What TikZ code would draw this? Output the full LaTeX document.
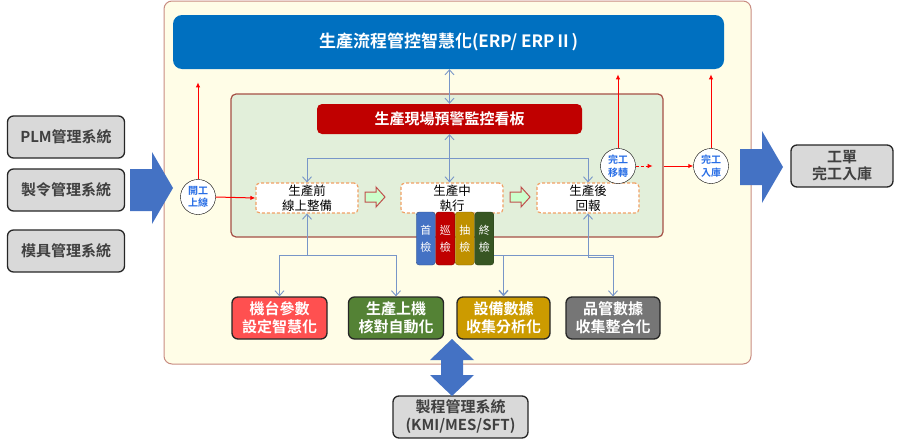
\documentclass[tikz,border=0pt]{standalone}
\usepackage{fontspec}
\setmainfont{Noto Sans CJK TC}[BoldFont={Noto Sans CJK TC Bold}]
\usetikzlibrary{calc, arrows.meta}
\definecolor{paper}{RGB}{255,253,231}
\definecolor{paperedge}{RGB}{200,140,130}
\definecolor{floorfill}{RGB}{226,239,218}
\definecolor{flooredge}{RGB}{165,80,70}
\definecolor{erpblue}{RGB}{0,112,192}
\definecolor{boardred}{RGB}{192,0,0}
\definecolor{dashorange}{RGB}{240,160,100}
\definecolor{linkblue}{RGB}{120,150,200}
\definecolor{arrowblue}{RGB}{68,114,196}
\definecolor{hollowfill}{RGB}{204,255,204}
\definecolor{hollowedge}{RGB}{192,80,77}
\definecolor{stationtext}{RGB}{40,110,230}
\definecolor{qcblue}{RGB}{68,114,196}
\definecolor{qcred}{RGB}{192,0,0}
\definecolor{qcgold}{RGB}{191,144,0}
\definecolor{qcgreen}{RGB}{55,86,35}
\definecolor{goalred}{RGB}{255,80,80}
\definecolor{goalgreen}{RGB}{84,130,53}
\definecolor{goalgold}{RGB}{204,155,0}
\definecolor{goalgray}{RGB}{118,118,118}

\begin{document}
\begin{tikzpicture}[x=1pt, y=-1pt,
                    sysbox/.style={draw=black!85, line width=1.3pt, fill=black!15, rounded corners=6pt, text=black!75, align=center, minimum width=117pt, minimum height=42pt, inner sep=0pt, font=\fontsize{15}{17}\selectfont\bfseries},
                    stagebox/.style={draw=dashorange, fill=white, line width=1.2pt, dash pattern=on 3pt off 2pt, rounded corners=4pt, align=center, minimum width=102pt, minimum height=30pt, inner sep=0pt, font=\fontsize{12.5}{15}\selectfont},
                    qcbox/.style={draw=#1!70!black, fill=#1, rounded corners=3pt, text=white, align=center, minimum width=19pt, minimum height=53pt, inner sep=0pt, font=\fontsize{11}{17}\selectfont},
                    goalbox/.style={draw=black!85, line width=1.3pt, fill=#1, rounded corners=6pt, text=white, align=center, minimum width=95pt, minimum height=42pt, inner sep=0pt, font=\fontsize{15}{18}\selectfont\bfseries},
                    station/.style={circle, draw=black, fill=white, minimum size=35pt, inner sep=0pt, text=stationtext, align=center, font=\fontsize{10}{12.5}\selectfont\bfseries},
                    link/.style={draw=linkblue, line width=0.9pt, >={Straight Barb[length=5pt, width=9pt]}},
                    flow/.style={draw=red, line width=1pt, -{Latex[length=5pt, width=4.5pt]}},
                    bigarrow/.style={fill=arrowblue},
                    hollowarrow/.style={draw=hollowedge, fill=hollowfill, line width=1pt}]
                    \useasboundingbox (0,0) rectangle (900,439);
                    \draw[draw=paperedge, fill=paper, line width=1pt, rounded corners=8pt] (164,1) rectangle (751,364);
                    \node[draw=flooredge, fill=floorfill, line width=1.2pt, rounded corners=5pt, minimum width=432pt, minimum height=143pt] (floor) at (447,165.5) {};
                    \node[fill=erpblue, rounded corners=9pt, text=white, minimum width=551pt, minimum height=54pt, font=\fontsize{17}{20}\selectfont\bfseries] (erp) at (448.5,42) {生產流程管控智慧化(ERP/ ERPⅡ)};
                    \node[fill=boardred, rounded corners=5pt, text=white, minimum width=265pt, minimum height=30pt, font=\fontsize{15}{18}\selectfont\bfseries] (board) at (449.5,119) {生產現場預警監控看板};
                    \node[sysbox] (plm) at (66,137) {PLM管理系統};
                    \node[sysbox] (order) at (66,190) {製令管理系統};
                    \node[sysbox] (mold) at (66,251) {模具管理系統};
                    \node[sysbox, minimum width=102pt] (warehouse) at (842,166) {工單\\完工入庫};
                    \node[sysbox, minimum width=135pt, font=\fontsize{15}{18}\selectfont\bfseries] (mes) at (460.5,417) {製程管理系統\\(KMI/MES/SFT)};
                    \node[stagebox] (prep) at (307,198) {生產前\\線上整備};
                    \node[stagebox] (exec) at (452,198) {生產中\\執行};
                    \node[stagebox] (report) at (588,198) {生產後\\回報};
                    \node[qcbox=qcblue] (first) at (425.75,238.5) {首\\檢};
                    \node[qcbox=qcred] (patrol) at (445.25,238.5) {巡\\檢};
                    \node[qcbox=qcgold] (sample) at (464.75,238.5) {抽\\檢};
                    \node[qcbox=qcgreen] (final) at (484.25,238.5) {終\\檢};
                    \node[goalbox=goalred] (param) at (279.5,318) {機台參數\\設定智慧化};
                    \node[goalbox=goalgreen] (mount) at (396,318) {生產上機\\核對自動化};
                    \node[goalbox=goalgold, minimum width=93pt] (equip) at (503.5,318) {設備數據\\收集分析化};
                    \node[goalbox=goalgray, minimum width=94pt] (quality) at (613,318) {品管數據\\收集整合化};
                    \node[station] (start) at (198,197) {開工\\上線};
                    \node[station] (transfer) at (618,166) {完工\\移轉};
                    \node[station] (store) at (711,166) {完工\\入庫};
                    \fill[bigarrow] (130,169) -- (152,169) -- (152,152) -- (173,188) -- (152,224) -- (152,211) -- (130,211) -- cycle;
                    \fill[bigarrow] (740,149) -- (762,149) -- (762,131) -- (783,167) -- (762,203) -- (762,185) -- (740,185) -- cycle;
                    \fill[bigarrow] (452,339) -- (474,360) -- (463,360) -- (463,375) -- (474,375) -- (452,396) -- (430,375) -- (441,375) -- (441,360) -- (430,360) -- cycle;
                    \draw[hollowarrow] (365,192) -- (376,192) -- (376,187) -- (385,197) -- (376,207) -- (376,202) -- (365,202) -- cycle;
                    \draw[hollowarrow] (510,192) -- (521,192) -- (521,187) -- (530,197) -- (521,207) -- (521,202) -- (510,202) -- cycle;
                    \draw[link, <->] (erp.south -| board.north) -- (board.north);
                    \draw[link, <->] (board.south) -- (board.south |- exec.north);
                    \draw[link, <->] (prep.north) -- ++(0,-24) -| (report.north);
                    \draw[link, <-] (prep.south) -- ++(0,42) coordinate (fanL);
                    \draw[link, ->] (fanL) -| (param.north);
                    \draw[link, ->] (fanL) -| (mount.north);
                    \draw[link, ->] (final.east |- fanL) -| (quality.north);
                    \draw[link, ->, line width=1.4pt] (fanL -| equip.north) -- (equip.north);
                    \draw[link, <-] (report.south) -- ++(0,44) -| (quality.north);
                    \draw[flow] (start.east) -- (prep.west);
                    \draw[flow] (start.north) -- ++(0,-97);
                    \draw[flow] (transfer.north) -- ++(0,-74);
                    \draw[flow, densely dashed] (transfer.east) -- ++(17,0);
                    \draw[flow] (floor.east |- store) -- (store.west);
                    \draw[flow] (store.north) -- ++(0,-74);
                \end{tikzpicture}
\end{document}
